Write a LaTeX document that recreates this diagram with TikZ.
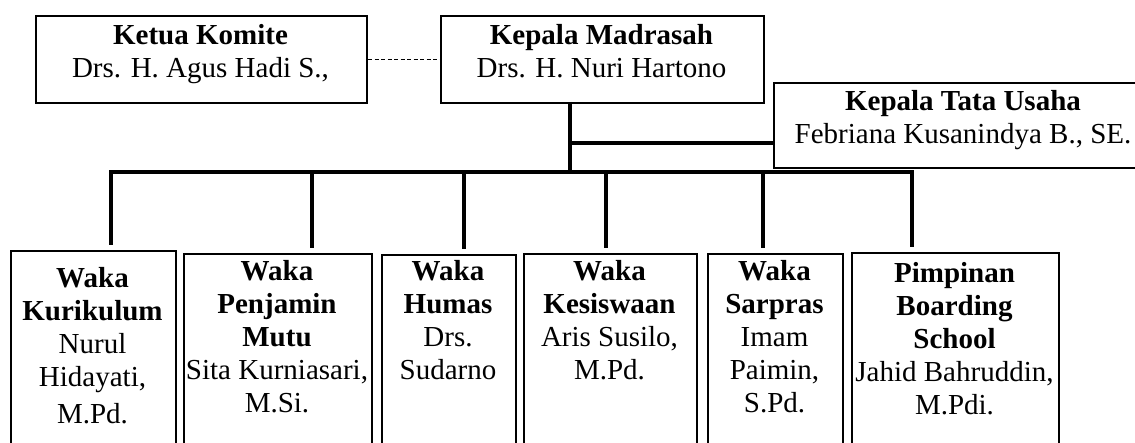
\documentclass[tikz,border=0pt]{standalone}
\usepackage{fontspec}
\setmainfont{Liberation Serif}
\begin{document}
\begin{tikzpicture}[x=1pt,y=-1pt,
  box/.style={draw, line width=2pt, inner sep=0pt, anchor=north west},
  txt/.style={anchor=north, align=center, inner sep=0pt, font=\fontsize{29}{33}\selectfont},
  conn/.style={line width=3.5pt},
  dashline/.style={line width=1.3pt, dash pattern=on 4pt off 2.5pt}]
\useasboundingbox (0,0) rectangle (1135,443);
\fill[white] (0,0) rectangle (1135,443);

% top boxes
\node[box, minimum width=331pt, minimum height=87pt] (km) at (35,15) {};
\node[txt] (kmt) at (200.5,20.9) {\strut\textbf{Ketua Komite}\\Drs. H. Agus Hadi S.,};
\node[box, minimum width=323pt, minimum height=87pt] (kmad) at (440,15) {};
\node[txt] (kmadt) at (601.5,20.9) {\strut\textbf{Kepala Madrasah}\\Drs. H. Nuri Hartono};
\node[box, minimum width=380pt, minimum height=85pt] (tu) at (773,82) {};
\node[txt] (tut) at (963,86.9) {\strut\textbf{Kepala Tata Usaha}\\Febriana Kusanindya B., SE.};

% bottom boxes
\node[box, minimum width=165pt, minimum height=220pt] (b1) at (10,250) {};
\node[txt] (b1t) at (92.5,263.9) {\strut\textbf{Waka}\\\textbf{Kurikulum}\\Nurul\\Hidayati,\\[4pt]M.Pd.};
\node[box, minimum width=188pt, minimum height=217pt] (b2) at (183,253) {};
\node[txt] (b2t) at (277,256.9) {\strut\textbf{Waka}\\\textbf{Penjamin}\\\textbf{Mutu}\\Sita Kurniasari,\\M.Si.};
\node[box, minimum width=134pt, minimum height=216pt] (b3) at (381,254) {};
\node[txt] (b3t) at (448,256.9) {\strut\textbf{Waka}\\\textbf{Humas}\\Drs.\\Sudarno};
\node[box, minimum width=173pt, minimum height=217pt] (b4) at (523,253) {};
\node[txt] (b4t) at (609.5,256.9) {\strut\textbf{Waka}\\\textbf{Kesiswaan}\\Aris Susilo,\\M.Pd.};
\node[box, minimum width=135pt, minimum height=217pt] (b5) at (707,253) {};
\node[txt] (b5t) at (774.5,256.9) {\strut\textbf{Waka}\\\textbf{Sarpras}\\Imam\\Paimin,\\S.Pd.};
\node[box, minimum width=207pt, minimum height=218pt] (b6) at (851,252) {};
\node[txt] (b6t) at (954.5,258.9) {\strut\textbf{Pimpinan}\\\textbf{Boarding}\\\textbf{School}\\Jahid Bahruddin,\\M.Pdi.};

% connector coordinates
\coordinate (vtop) at (570,102);
\coordinate (vbot) at (570,172);
\coordinate (j1) at (570,143);
\coordinate (busl) at (109.3,172);
\coordinate (busr) at (913.7,172);
\coordinate (d1) at (111,172);
\coordinate (d2) at (312,172);
\coordinate (d3) at (464,172);
\coordinate (d4) at (606,172);
\coordinate (d5) at (763,172);
\coordinate (d6) at (912,172);

% connectors
\draw[dashline] (km.east) -- (kmad.west);
\draw[conn] (vtop) -- (vbot);
\draw[conn] (j1) -- (j1 -| tu.west);
\draw[conn] (busl) -- (busr);
\draw[conn, shorten >=5pt] (d1) -- (d1 |- b1.north);
\draw[conn, shorten >=5pt] (d2) -- (d2 |- b2.north);
\draw[conn, shorten >=5pt] (d3) -- (d3 |- b3.north);
\draw[conn, shorten >=5pt] (d4) -- (d4 |- b4.north);
\draw[conn, shorten >=5pt] (d5) -- (d5 |- b5.north);
\draw[conn, shorten >=5pt] (d6) -- (d6 |- b6.north);
\end{tikzpicture}
\end{document}
